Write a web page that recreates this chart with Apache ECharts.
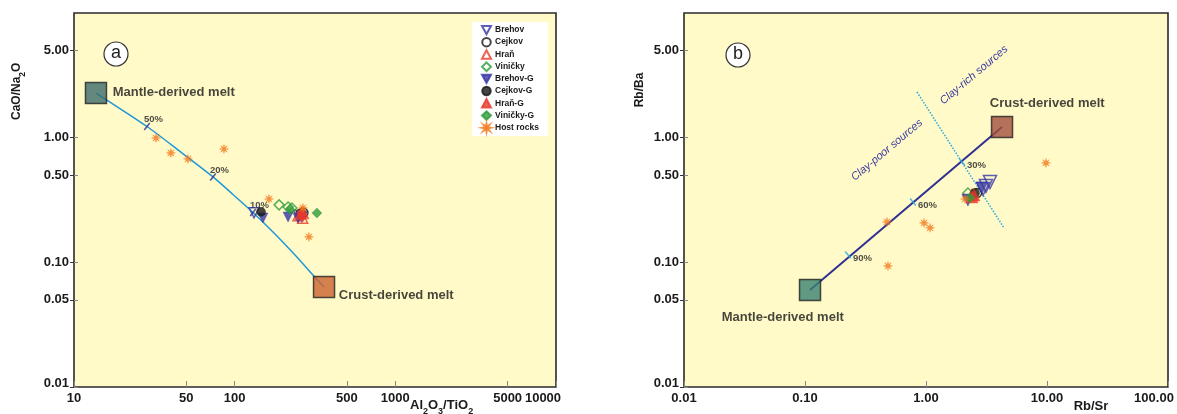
<!DOCTYPE html>
<html><head><meta charset="utf-8">
<script src="https://cdn.jsdelivr.net/npm/echarts@6/dist/echarts.min.js"></script>
<style>html,body{margin:0;padding:0;background:#fff}#c{width:1177px;height:414px}</style>
</head><body><div id="c"></div>
<script>
// ---------- data ----------
const aTicksX = [10, 50, 100, 500, 1000, 5000, 10000];
const bTicksX = [0.01, 0.1, 1, 10, 100];
const yTicks = [0.01, 0.05, 0.1, 0.5, 1, 5];

// Panel a: Al2O3/TiO2 vs CaO/Na2O
const aMantle = [[13.7, 2.28]];
const aCrust = [[360, 0.0635]];
const aCurve = [[13.7,2.28],[28.47,1.229],[45.66,0.775],[73.28,0.484],[97.6,0.35],[130,0.2513],[178.2,0.169],[240.7,0.1125],[307.1,0.0792],[360,0.0635]];
const aMixTicks = [[28.47,1.229],[73.28,0.484],[130,0.2513]];
const aMixLabels = ['50%','20%','10%'];
const aBrehov = [[132,0.25],[262,0.233],[250,0.238]];
const aCejkov = [[258,0.247],[268,0.25]];
const aHran = [[248,0.236],[265,0.226]];
const aVinicky = [[189,0.289],[215,0.278],[227,0.273]];
const aBrehovG = [[150,0.227],[215,0.231],[248,0.226]];
const aCejkovG = [[146,0.254]];
const aHranG = [[262,0.258],[255,0.241],[270,0.245]];
const aVinickyG = [[325,0.249],[221,0.265]];
const aHost = [[32.4,0.994],[40.1,0.754],[51.2,0.675],[85.8,0.811],[163.5,0.322],[266,0.273],[289.8,0.16]];

// Panel b: Rb/Sr vs Rb/Ba
const bMantle = [[0.11, 0.0601]];
const bCrust = [[4.25, 1.218]];
const bLine = [[0.11,0.0601],[4.25,1.218]];
const bDivider = [[0.842,2.326],[4.412,0.1888]];
const bMixTicks = [[0.2267,0.1147],[0.781,0.305],[1.984,0.638]];
const bMixLabels = ['90%','60%','30%'];
const bBrehov = [[3.38,0.441],[3.13,0.41],[2.96,0.388]];
const bCejkov = [[2.64,0.36]];
const bHran = [[2.4,0.35]];
const bVinicky = [[2.22,0.36]];
const bBrehovG = [[2.9,0.395],[2.22,0.316]];
const bCejkovG = [[2.54,0.36]];
const bHranG = [[2.49,0.347],[2.4,0.335]];
const bVinickyG = [[2.31,0.329]];
const bHost = [[0.476,0.211],[0.963,0.207],[1.08,0.189],[0.485,0.0936],[9.81,0.627],[2.1,0.322]];

// ---------- styles ----------
const FONT = '"Liberation Sans", Arial, Helvetica, sans-serif';
const BLUE = '#3636A6', BLACK = '#161616', RED = '#E8392C', GREEN = '#2E9C3B', ORANGE = '#F27A1F';
const STAR = 'path://M20 10 L13.23 11.34 L17.07 17.07 L11.34 13.23 L10 20 L8.66 13.23 L2.93 17.07 L6.77 11.34 L0 10 L6.77 8.66 L2.93 2.93 L8.66 6.77 L10 0 L11.34 6.77 L17.07 2.93 L13.23 8.66 Z';
const DOWN = 'path://M0 0 L20 0 L10 18 Z';
const SYM = {
  'Brehov':    {symbol:DOWN, fill:'rgba(0,0,0,0)', stroke:BLUE, size:10},
  'Cejkov':    {symbol:'circle', fill:'rgba(0,0,0,0)', stroke:BLACK, size:9},
  'Hraň':      {symbol:'triangle', fill:'rgba(0,0,0,0)', stroke:RED, size:10},
  'Viničky':   {symbol:'diamond', fill:'rgba(0,0,0,0)', stroke:GREEN, size:10},
  'Brehov-G':  {symbol:DOWN, fill:BLUE, stroke:BLUE, size:10},
  'Cejkov-G':  {symbol:'circle', fill:BLACK, stroke:BLACK, size:9},
  'Hraň-G':    {symbol:'triangle', fill:RED, stroke:RED, size:10},
  'Viničky-G': {symbol:'diamond', fill:GREEN, stroke:GREEN, size:10},
  'Host rocks':{symbol:STAR, fill:ORANGE, stroke:ORANGE, size:9}
};
const NAMES = Object.keys(SYM);

function pts(name, data, gi, scale) {
  const s = SYM[name];
  return {
    type:'scatter', name, xAxisIndex:gi, yAxisIndex:gi, data,
    symbol:s.symbol, symbolSize:s.size*(scale||1), z:5,
    itemStyle:{color:s.fill, borderColor:s.stroke, borderWidth: s.fill.indexOf('rgba')===0 ? 1.5 : 0.5}
  };
}
function square(data, gi, color, text, pos) {
  return {
    type:'scatter', xAxisIndex:gi, yAxisIndex:gi, data, symbol:'rect', symbolSize:21, z:6,
    itemStyle:{color, borderColor:'#222', borderWidth:1.5},
    label:{show:true, formatter:text, position:pos, align:'left', verticalAlign:'middle',
      fontFamily:FONT, fontWeight:'bold', fontSize:13, color:'#161616'},
    emphasis:{disabled:true}, silent:true
  };
}
function mixTicks(data, labels, gi, color, rot, off) {
  return {
    type:'scatter', xAxisIndex:gi, yAxisIndex:gi, z:4, silent:true,
    data: data.map((v,i)=>({value:v, name:labels[i]})),
    symbol:'rect', symbolSize:[1.6,9], symbolRotate:rot,
    itemStyle:{color},
    label:{show:true, formatter:'{b}', position:'inside', align:'left', verticalAlign:'middle', offset:off,
      fontFamily:FONT, fontWeight:'bold', fontSize:9.5, color:'#222'}
  };
}

const labelBase = {fontFamily:FONT, fontWeight:'bold', fontSize:13, color:'#1a1a1a', margin:5};
const fmt2 = v => Number(v).toFixed(2);

function yAx(gi) {
  return {
    type:'log', logBase:10, min:0.01, max:10, gridIndex:gi,
    axisLine:{show:false}, splitLine:{show:false},
    axisTick:{show:true, inside:false, length:4, lineStyle:{color:'#333', width:1}, customValues:yTicks},
    axisLabel:Object.assign({}, labelBase, {customValues:yTicks,
      formatter: v => Math.abs(v-0.01)<1e-6 ? '{lo|0.01}' : fmt2(v),
      rich:{lo:{fontFamily:FONT, fontWeight:'bold', fontSize:13, color:'#1a1a1a', padding:[0,0,8,0]}}})
  };
}
function yAxIn(gi) {
  return {
    type:'log', logBase:10, min:0.01, max:10, gridIndex:gi, position:'left',
    axisLine:{show:false}, splitLine:{show:false}, axisLabel:{show:false},
    axisTick:{show:true, inside:true, length:4, lineStyle:{color:'#888', width:1}, customValues:yTicks}
  };
}

const option = {
  animation:false,
  backgroundColor:'#fff',
  textStyle:{fontFamily:FONT},
  grid:[
    {left:74, top:13, width:482, height:374, show:true, backgroundColor:'#FFFAC8', borderColor:'#2a2a2a', borderWidth:1.6},
    {left:684, top:13, width:484, height:374, show:true, backgroundColor:'#FFFAC8', borderColor:'#2a2a2a', borderWidth:1.6}
  ],
  xAxis:[
    {type:'log', logBase:10, min:10, max:10000, gridIndex:0,
     axisLine:{show:false}, splitLine:{show:false},
     axisTick:{show:true, inside:true, length:6, lineStyle:{color:'#888', width:1}, customValues:aTicksX},
     axisLabel:Object.assign({}, labelBase, {customValues:aTicksX,
       formatter: v => { const r = Math.round(v); return r===10000 ? '{r|10000}' : String(r); },
       rich:{r:{fontFamily:FONT, fontWeight:'bold', fontSize:13, color:'#1a1a1a', padding:[0,26,0,0]}}})},
    {type:'log', logBase:10, min:0.01, max:100, gridIndex:1,
     axisLine:{show:false}, splitLine:{show:false},
     axisTick:{show:true, inside:true, length:6, lineStyle:{color:'#888', width:1}, customValues:bTicksX},
     axisLabel:Object.assign({}, labelBase, {customValues:bTicksX,
       formatter: v => Math.abs(v-100)<1e-6 ? '{r|100.00}' : fmt2(v),
       rich:{r:{fontFamily:FONT, fontWeight:'bold', fontSize:13, color:'#1a1a1a', padding:[0,28,0,0]}}})}
  ],
  yAxis:[yAx(0), yAx(1), yAxIn(0), yAxIn(1)],
  legend:{
    data:NAMES, orient:'vertical', left:472, top:22,
    backgroundColor:'#fff', padding:[3,9,3,9],
    itemWidth:9, itemHeight:8.5, itemGap:1.8, selectedMode:false,
    textStyle:{fontFamily:FONT, fontWeight:'bold', fontSize:8.5, color:'#1a1a1a', padding:[0,0,0,-1]}
  },
  series:[
    // panel a
    {type:'line', xAxisIndex:0, yAxisIndex:0, data:aCurve, smooth:0.25, showSymbol:false, silent:true, z:2,
     lineStyle:{color:'#1D98D8', width:1.5}},
    mixTicks(aMixTicks, aMixLabels, 0, '#2E3192', -38, [-3,-7]),
    pts('Brehov', aBrehov, 0), pts('Cejkov', aCejkov, 0), pts('Hraň', aHran, 0), pts('Viničky', aVinicky, 0),
    pts('Brehov-G', aBrehovG, 0), pts('Cejkov-G', aCejkovG, 0), pts('Hraň-G', aHranG, 0), pts('Viničky-G', aVinickyG, 0),
    pts('Host rocks', aHost, 0),
    square(aMantle, 0, '#3E6B6B', 'Mantle-derived melt', [28,11]),
    square(aCrust, 0, '#C9632F', 'Crust-derived melt', [26,20]),
    // panel b
    {type:'line', xAxisIndex:1, yAxisIndex:1, data:bDivider, showSymbol:false, silent:true, z:2,
     lineStyle:{color:'#2AAAE2', width:1.5, type:'dotted'}},
    {type:'line', xAxisIndex:1, yAxisIndex:1, data:bLine, showSymbol:false, silent:true, z:3,
     lineStyle:{color:'#2E3192', width:2}},
    mixTicks(bMixTicks, bMixLabels, 1, '#2AAAE2', 40, [5,3]),
    pts('Brehov', bBrehov, 1, 1.3), pts('Cejkov', bCejkov, 1), pts('Hraň', bHran, 1), pts('Viničky', bVinicky, 1),
    pts('Brehov-G', bBrehovG, 1, 1.2), pts('Cejkov-G', bCejkovG, 1), pts('Hraň-G', bHranG, 1, 1.2), pts('Viničky-G', bVinickyG, 1),
    pts('Host rocks', bHost, 1),
    square(bMantle, 1, '#3A8172', 'Mantle-derived melt', [-77,39]),
    square(bCrust, 1, '#A24F3F', 'Crust-derived melt', [-1,-12])
  ],
  graphic:[
    {type:'circle', shape:{cx:116, cy:54, r:12}, style:{fill:'#fff', stroke:'#333', lineWidth:1.2}, z:10},
    {type:'text', x:116, y:53, z:11, style:{text:'a', fontSize:18, fontFamily:FONT, fill:'#222', textAlign:'center', textVerticalAlign:'middle'}},
    {type:'circle', shape:{cx:738, cy:55, r:12}, style:{fill:'#fff', stroke:'#333', lineWidth:1.2}, z:10},
    {type:'text', x:738, y:54, z:11, style:{text:'b', fontSize:18, fontFamily:FONT, fill:'#222', textAlign:'center', textVerticalAlign:'middle'}},
    // axis names
    {type:'text', x:410, y:399, z:11, style:{text:'{n|Al}{s|2}{n|O}{s|3}{n|/TiO}{s|2}',
      rich:{n:{fontSize:13, fontWeight:'bold', fontFamily:FONT, fill:'#1a1a1a', lineHeight:14, verticalAlign:'top'},
            s:{fontSize:9, fontWeight:'bold', fontFamily:FONT, fill:'#1a1a1a', lineHeight:9, padding:[8,0,0,0], verticalAlign:'top'}}}},
    {type:'text', x:11, y:120, rotation:Math.PI/2, z:11, style:{text:'{n|CaO/Na}{s|2}{n|O}',
      rich:{n:{fontSize:12, fontWeight:'bold', fontFamily:FONT, fill:'#1a1a1a', lineHeight:13, verticalAlign:'top'},
            s:{fontSize:8.5, fontWeight:'bold', fontFamily:FONT, fill:'#1a1a1a', lineHeight:8, padding:[7,0,0,0], verticalAlign:'top'}}}},
    {type:'text', x:1091, y:406, z:11, style:{text:'Rb/Sr', fontSize:13, fontWeight:'bold', fontFamily:FONT, fill:'#1a1a1a', textAlign:'center', textVerticalAlign:'middle'}},
    {type:'text', x:640, y:90, rotation:Math.PI/2, z:11, style:{text:'Rb/Ba', fontSize:12, fontWeight:'bold', fontFamily:FONT, fill:'#1a1a1a', textAlign:'center', textVerticalAlign:'middle'}},
    // region annotations
    {type:'text', x:887, y:150, rotation:40*Math.PI/180, z:11, style:{text:'Clay-poor sources', fontSize:11, fontStyle:'italic', fontFamily:FONT, fill:'#3A3AA0', textAlign:'center', textVerticalAlign:'middle'}},
    {type:'text', x:974, y:75, rotation:40*Math.PI/180, z:11, style:{text:'Clay-rich sources', fontSize:11, fontStyle:'italic', fontFamily:FONT, fill:'#3A3AA0', textAlign:'center', textVerticalAlign:'middle'}}
  ]
};
const chart = echarts.init(document.getElementById('c'), null, {renderer:'canvas'});
chart.setOption(option);
</script></body></html>
